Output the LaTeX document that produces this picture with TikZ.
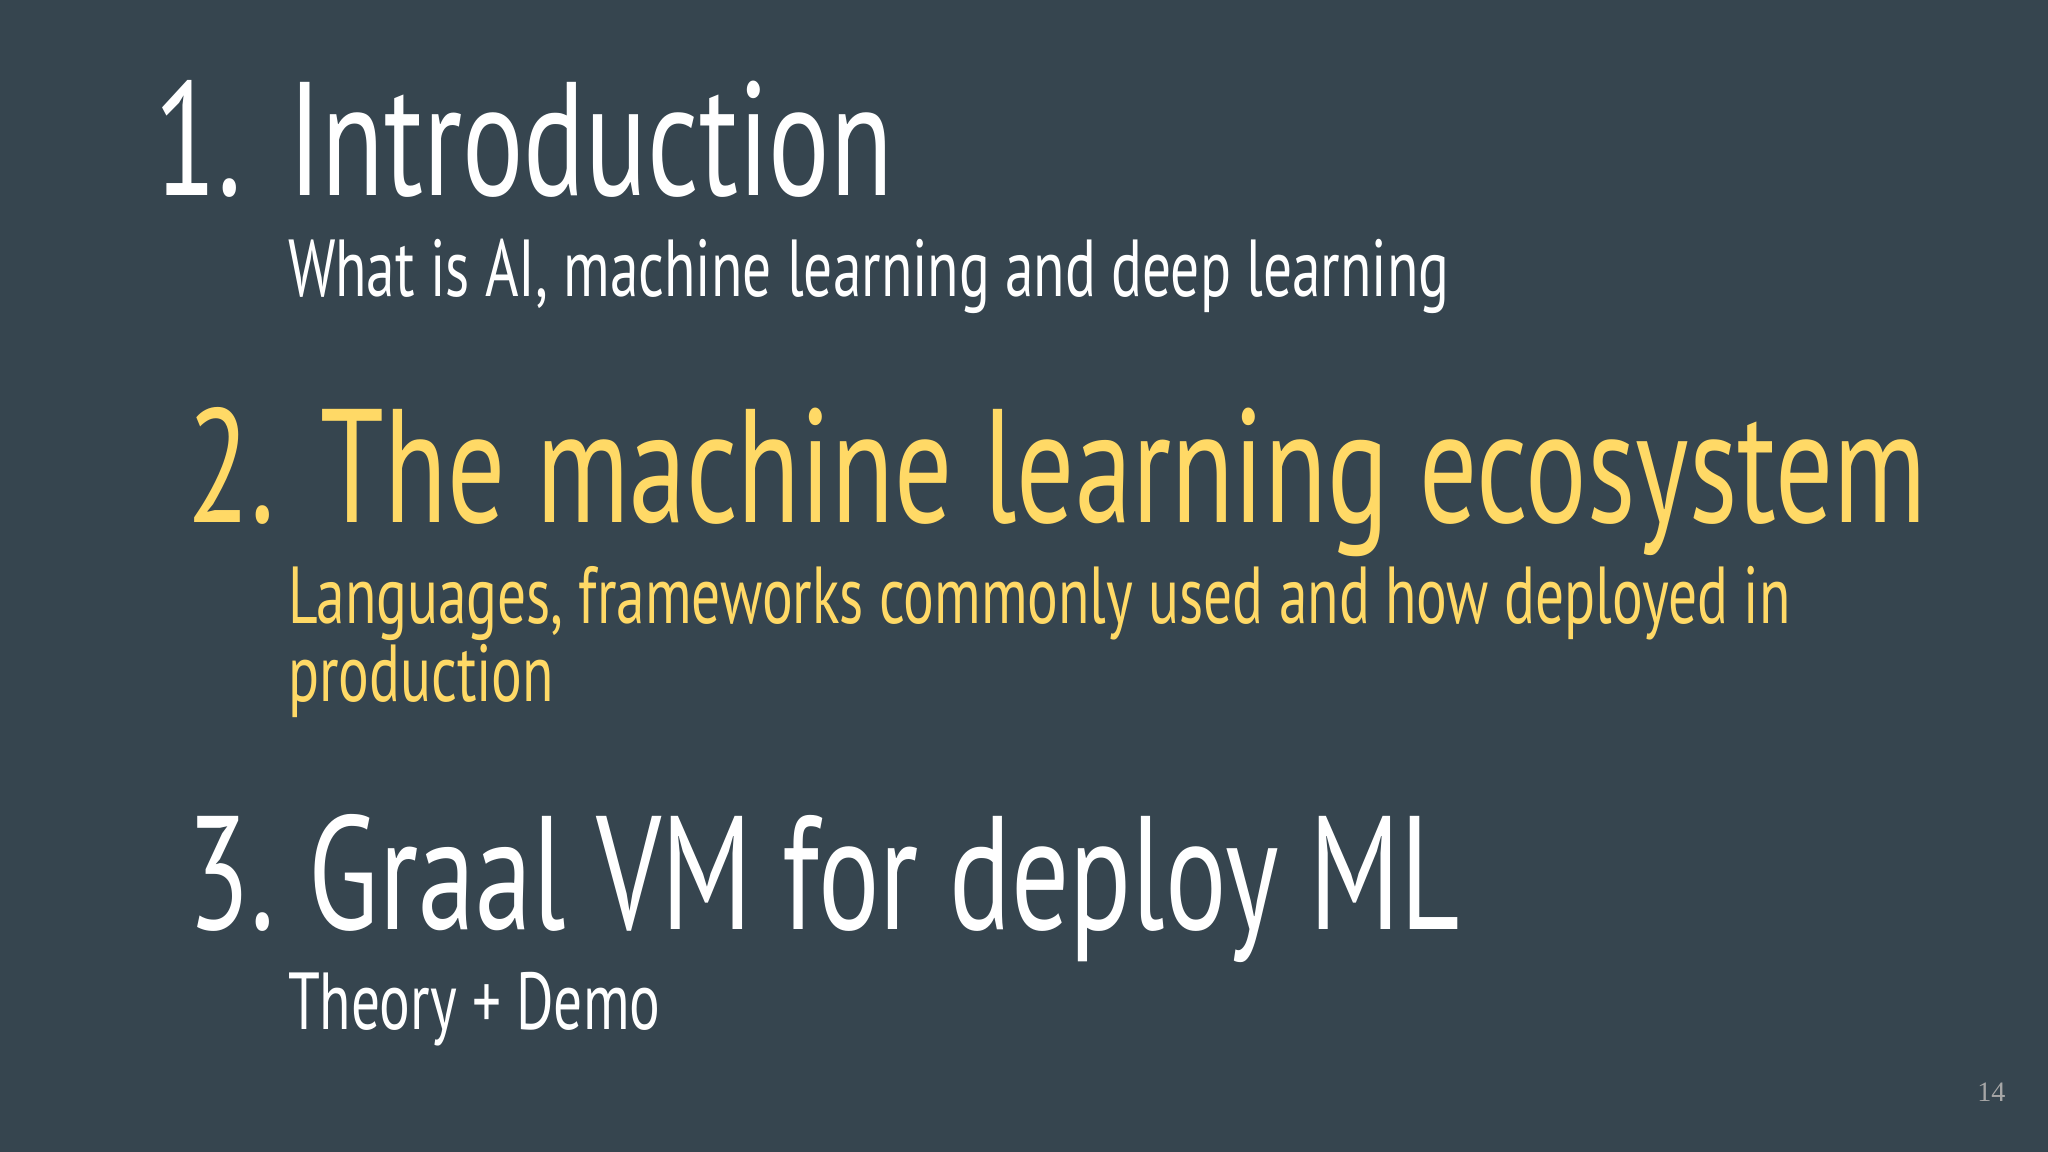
\documentclass[tikz,border=0pt]{standalone}
\usepackage{fontspec}
\setmainfont{PT Sans}[FakeStretch=0.71]
\newfontfamily\numfont{Liberation Serif}
\definecolor{bg}{HTML}{36454F}
\definecolor{ylw}{HTML}{FFD966}
\begin{document}
\begin{tikzpicture}[x=0.01306cm,y=-0.01306cm,
  big/.style={anchor=base west,inner sep=0,font=\fontsize{46}{50}\selectfont},
  sub/.style={anchor=base west,inner sep=0,font=\fontsize{23}{30}\selectfont}]
\fill[bg] (0,0) rectangle (1568,882);
\useasboundingbox (0,0) rectangle (1568,882);
\node[big,white] (n1) at (118,150) {1.};
\node[big,white] (t1) at (220,150) {Introduction};
\node[sub,white] (s1) at (220,227) {What is AI, machine learning and deep learning};
\node[big,ylw] (n2) at (143,400) {2.};
\node[big,ylw] (t2) at (245,400) {The machine learning ecosystem};
\node[sub,ylw] (s2a) at (220,477) {Languages, frameworks commonly used and how deployed in};
\node[sub,ylw] (s2b) at (220,537) {production};
\node[big,white] (n3) at (143,712) {3.};
\node[big,white] (t3) at (236,712) {Graal VM for deploy ML};
\node[sub,white] (s3) at (220,788) {Theory + Demo};
\node[anchor=base east,inner sep=0,text=gray!70,font=\numfont\fontsize{8}{10}\selectfont] (pg) at (1536,843) {14};
\end{tikzpicture}
\end{document}
